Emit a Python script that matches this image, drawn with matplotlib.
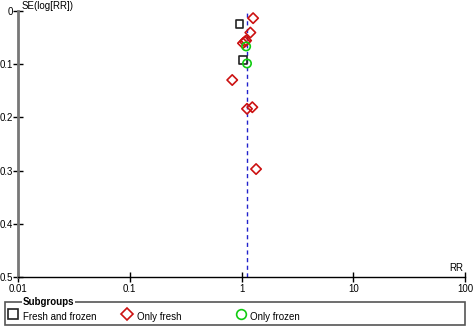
import matplotlib
matplotlib.use("Agg")
import matplotlib.pyplot as plt
from matplotlib.patches import Rectangle
from matplotlib.lines import Line2D

# Data: (RR, SE) per subgroup
ff_rr = [0.96, 1.03]
ff_se = [0.025, 0.092]
fresh_rr = [1.27, 1.20, 1.10, 1.03, 1.07, 0.826, 1.12, 1.25, 1.35]
fresh_se = [0.014, 0.041, 0.056, 0.061, 0.058, 0.130, 0.184, 0.181, 0.297]
frozen_rr = [1.10, 1.12]
frozen_se = [0.067, 0.099]
pooled_rr = 1.115
xticks = [0.01, 0.1, 1, 10, 100]
xticklabels = ["0.01", "0.1", "1", "10", "100"]
yticks = [0, 0.1, 0.2, 0.3, 0.4, 0.5]
yticklabels = ["0", "0.1", "0.2", "0.3", "0.4", "0.5"]

plt.rcParams['font.family'] = ['Liberation Sans', 'DejaVu Sans']
fig = plt.figure(figsize=(4.73, 3.26), dpi=100)
ax = fig.add_axes([18/473, 1-277.3/326, (465-18)/473, (277.3-10.7)/326])
ax.set_xscale('log')
ax.set_xlim(0.01, 100)
ax.set_ylim(0.5, 0)

ax.axvline(pooled_rr, color='#2222cc', lw=1, ls=(0, (3, 2.5)), zorder=1)

ax.scatter(ff_rr, ff_se, marker='s', s=30, facecolors='none', edgecolors='#222222', linewidths=1.2, zorder=3)
ax.scatter(fresh_rr, fresh_se, marker='D', s=28, facecolors='none', edgecolors='#cc1111', linewidths=1.2, zorder=3)
ax.scatter(frozen_rr, frozen_se, marker='o', s=36, facecolors='none', edgecolors='#11cc11', linewidths=1.2, zorder=4)

for s in ['top', 'right']:
    ax.spines[s].set_visible(False)
ax.spines['left'].set_color('#777777')
ax.spines['left'].set_linewidth(2)
ax.spines['bottom'].set_color('black')
ax.spines['bottom'].set_linewidth(1)

ax.set_xticks(xticks)
ax.set_xticklabels(xticklabels)
ax.minorticks_off()
ax.set_yticks(yticks)
ax.set_yticklabels(yticklabels)
ax.tick_params(axis='x', direction='inout', length=7, width=1, labelsize=7, pad=1)
ax.tick_params(axis='y', direction='inout', length=7, width=1, labelsize=7, pad=0)

fig.text(22/473, 1-6/326, "SE(log[RR])", fontsize=7, va='center', ha='left')
fig.text(463/473, 1-273/326, "RR", fontsize=7, va='bottom', ha='right')

# legend box
box = Rectangle((5/473, 1-325/326), (465-5)/473, (325-302)/326, transform=fig.transFigure,
                fill=False, edgecolor='#555555', lw=1.2)
fig.patches.append(box)
fig.text(23/473, 1-302/326, "Subgroups", fontsize=7, fontweight='bold', va='center', ha='left',
         bbox=dict(facecolor='white', edgecolor='none', pad=0.5))
items = [(13, 's', '#222222', "Fresh and frozen", 23),
         (127, 'D', '#cc1111', "Only fresh", 137),
         (241, 'o', '#11cc11', "Only frozen", 250)]
for mx, m, c, lab, tx in items:
    fig.add_artist(Line2D([mx/473], [1-314/326], marker=m, markersize=7 if m != 'D' else 6.5,
                          markerfacecolor='none', markeredgecolor=c, markeredgewidth=1.2,
                          transform=fig.transFigure, linestyle='none'))
    fig.text(tx/473, 1-317/326, lab, fontsize=7, va='center', ha='left')

fig.savefig("out.png", dpi=100)
